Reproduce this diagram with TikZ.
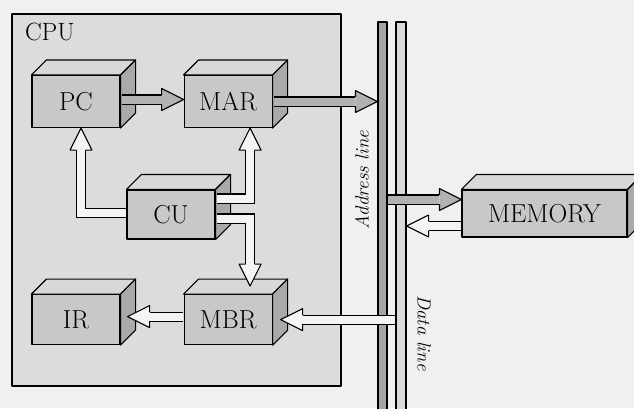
\documentclass[tikz,border=0pt]{standalone}
\usepackage{tikz}
\usetikzlibrary{positioning,calc}
\definecolor{pageGray}{HTML}{F0F0F0}
\definecolor{cpuGray}{HTML}{DCDCDC}
\definecolor{boxFront}{HTML}{C8C8C8}
\definecolor{boxTop}{HTML}{D8D8D8}
\definecolor{boxSide}{HTML}{A9A9A9}
\definecolor{arrowGray}{HTML}{B2B2B2}
\definecolor{arrowLight}{HTML}{F4F4F4}
\definecolor{addrGray}{HTML}{A4A4A4}
\definecolor{dataGray}{HTML}{DADADA}

% top and side faces of a unit
\newcommand{\boxfaces}[1]{%
  \filldraw[fill=boxTop] (#1.north west) -- ++(15,-15) -- ($(#1.north east)+(15,-15)$) -- (#1.north east) -- cycle;
  \filldraw[fill=boxSide] (#1.north east) -- ++(15,-15) -- ($(#1.south east)+(15,-15)$) -- (#1.south east) -- cycle;
}
% head of a block arrow: tip, angle, fill
\newcommand{\blockhead}[3]{%
  \fill[#3, shift={(#1)}, rotate=#2] (0,0) -- (-22,11) -- (-22,-11) -- cycle;
  \draw[shift={(#1)}, rotate=#2] (-22,4.6) -- (-22,11) -- (0,0) -- (-22,-11) -- (-22,-4.6);
}

\begin{document}
\begin{tikzpicture}[
    x=1pt, y=-1pt,
    line width=1.1pt, line join=round,
    unit/.style={
            rectangle,
            draw,
            fill=boxFront,
            minimum width=88pt,
            minimum height=52pt,
            inner sep=0pt,
            font=\fontsize{26}{30}\selectfont
        },
    cpubox/.style={rectangle, draw, fill=cpuGray, minimum width=329pt, minimum height=372pt},
    bus/.style={rectangle, draw, minimum width=9pt, minimum height=398pt, inner sep=0pt},
    buslabel/.style={font=\fontsize{19}{22}\selectfont\itshape, inner sep=0pt},
    shaft/.style={double=#1, double distance=8pt, line width=1.1pt, line join=miter}
  ]
  \fill[pageGray] (0,0) rectangle (634,408);
  \useasboundingbox (0,0) rectangle (634,408);
  \clip (0,0) rectangle (634,408);

  \node[cpubox] (cpu) at (176.5,200) {};
  \node[anchor=north west, inner sep=0pt, font=\fontsize{25}{30}\selectfont] (cpulabel)
    at ($(cpu.north west)+(13,9)$) {CPU};

  \node[unit] (pc) at (76,101.5) {PC};
  \node[unit, right=63pt of pc] (mar) {MAR};
  \node[unit, minimum height=49pt] (cu) at (171,214.5) {CU};
  \node[unit, minimum height=50pt, below=166pt of pc] (ir) {IR};
  \node[unit, minimum height=50pt, right=63pt of ir] (mbr) {MBR};
  \node[unit, minimum width=165pt, minimum height=47pt] (mem) at (544.5,213.5) {MEMORY};

  \boxfaces{pc}
  \boxfaces{mar}
  \boxfaces{cu}
  \boxfaces{ir}
  \boxfaces{mbr}
  \boxfaces{mem}

  % buses
  \node[bus, fill=addrGray] (abus) at (382.5,221) {};
  \node[bus, fill=dataGray, minimum width=10pt] (dbus) at (401,221) {};
  \node[buslabel, rotate=90] (alabel) at (362,180) {Address line};
  \node[buslabel, rotate=-90] (dlabel) at (424,333) {Data line};

  % grey arrows
  \draw[shaft=arrowGray] ($(pc.east)+(1,-2)$) -- ($(mar.west)+(-22,-2)$);
  \blockhead{$(mar.west)+(0,-2)$}{0}{arrowGray}
  \coordinate (amar) at (abus.west |- mar.east);
  \draw[shaft=arrowGray] ($(mar.east)+(1,0)$) -- ($(amar)+(-22,0)$);
  \blockhead{amar}{0}{arrowGray}
  \coordinate (amem) at ($(mem.west)+(0,-14)$);
  \draw[shaft=arrowGray] ($(abus.east |- amem)+(0.5,0)$) -- ($(amem)+(-22,0)$);
  \blockhead{amem}{0}{arrowGray}

  % light arrows
  \coordinate (mdat) at ($(mem.west)+(-0.5,12.5)$);
  \coordinate (ddat) at (dbus.east |- mdat);
  \draw[shaft=arrowLight] (mdat) -- ($(ddat)+(22,0)$);
  \blockhead{ddat}{180}{arrowLight}
  \coordinate (tmbr) at ($(mbr.east)+(8,0)$);
  \draw[shaft=arrowLight] ($(dbus.west |- tmbr)+(-0.5,0)$) -- ($(tmbr)+(22,0)$);
  \blockhead{tmbr}{180}{arrowLight}
  \coordinate (tir) at ($(ir.east)+(7,-3)$);
  \draw[shaft=arrowLight] ($(mbr.west |- tir)+(-0.5,0)$) -- ($(tir)+(22,0)$);
  \blockhead{tir}{180}{arrowLight}
  \coordinate (tpc) at ($(pc.south)+(5,0)$);
  \draw[shaft=arrowLight] ($(cu.west)+(-0.5,-1.5)$) -| ($(tpc)+(0,22)$);
  \blockhead{tpc}{90}{arrowLight}
  \coordinate (tmar) at ($(mar.south)+(22,0)$);
  \draw[shaft=arrowLight] ($(cu.east)+(1,-16)$) -| ($(tmar)+(0,22)$);
  \blockhead{tmar}{90}{arrowLight}
  \coordinate (tmbrtop) at ($(mbr.north)+(22,-8)$);
  \draw[shaft=arrowLight] ($(cu.east)+(1,4)$) -| ($(tmbrtop)+(0,-22)$);
  \blockhead{tmbrtop}{-90}{arrowLight}
\end{tikzpicture}
\end{document}
